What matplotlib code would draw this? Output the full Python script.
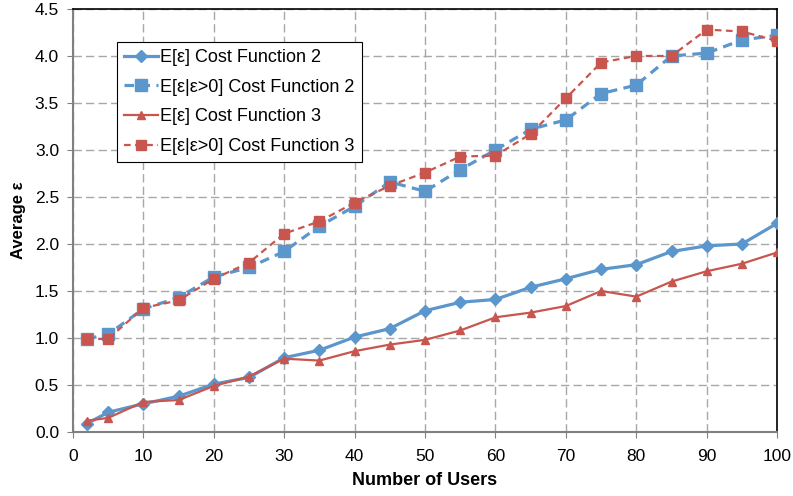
import matplotlib.pyplot as plt

plt.rcParams['font.family'] = ['Liberation Sans', 'DejaVu Sans']

users = [2, 5, 10, 15, 20, 25, 30, 35, 40, 45, 50, 55, 60, 65, 70, 75, 80, 85, 90, 95, 100]
e_cf2 = [0.09, 0.21, 0.30, 0.38, 0.51, 0.58, 0.79, 0.87, 1.01, 1.10, 1.29, 1.38, 1.41,
         1.54, 1.63, 1.73, 1.78, 1.92, 1.98, 2.00, 2.22]
epos_cf2 = [0.99, 1.04, 1.31, 1.43, 1.65, 1.75, 1.92, 2.19, 2.40, 2.66, 2.56, 2.79, 3.00,
            3.22, 3.32, 3.60, 3.69, 4.00, 4.03, 4.17, 4.22]
e_cf3 = [0.12, 0.15, 0.32, 0.34, 0.49, 0.59, 0.78, 0.76, 0.86, 0.93, 0.98, 1.08, 1.22,
         1.27, 1.34, 1.50, 1.44, 1.60, 1.71, 1.79, 1.91]
epos_cf3 = [0.99, 0.99, 1.32, 1.40, 1.63, 1.80, 2.11, 2.24, 2.44, 2.62, 2.76, 2.93, 2.94,
            3.17, 3.55, 3.93, 4.00, 4.00, 4.28, 4.26, 4.16]

blue = '#5b96cc'
red = '#c8564f'

fig = plt.figure(figsize=(7.93, 4.96), dpi=100)
ax = fig.add_axes([0.092, 0.129, 0.888, 0.853])

ax.plot(users, e_cf2, color=blue, lw=2.3, marker='D', ms=6, label='E[ε] Cost Function 2', zorder=3)
ax.plot(users, epos_cf2, color=blue, lw=2.3, ls=(0, (3, 2)), marker='s', ms=8,
        label='E[ε|ε>0] Cost Function 2', zorder=3)
ax.plot(users, e_cf3, color=red, lw=1.6, marker='^', ms=6, label='E[ε] Cost Function 3', zorder=4)
ax.plot(users, epos_cf3, color=red, lw=1.6, ls=(0, (3, 2)), marker='s', ms=7,
        label='E[ε|ε>0] Cost Function 3', zorder=4)

ax.set_xlim(0, 100)
ax.set_ylim(0, 4.5)
ax.set_xticks(range(0, 101, 10))
ax.set_yticks([i * 0.5 for i in range(10)])
ax.set_yticklabels([f'{i * 0.5:.1f}' for i in range(10)])
ax.tick_params(labelsize=12.5, direction='out', length=4, color='#808080')
ax.tick_params(axis='x', pad=8)
ax.tick_params(axis='y', pad=6)
ax.grid(True, color='#a8a8a8', ls=(0, (6, 3)), lw=1)
ax.set_axisbelow(True)

for side in ['left', 'bottom']:
    ax.spines[side].set_color('#808080')
    ax.spines[side].set_linewidth(1.5)
for side in ['top', 'right']:
    ax.spines[side].set_color('black')
    ax.spines[side].set_linewidth(1.2)

ax.set_xlabel('Number of Users', fontsize=13, fontweight='bold', labelpad=6)
ax.set_ylabel('Average ε', fontsize=12, fontweight='bold', labelpad=6)

leg = ax.legend(loc='upper left', bbox_to_anchor=(0.0625, 0.922), fontsize=13, fancybox=False,
                edgecolor='black', framealpha=1, handlelength=1.9, handletextpad=0.1,
                borderpad=0.4, labelspacing=0.7, borderaxespad=0)
leg.get_frame().set_linewidth(0.8)

fig.savefig('out.png', dpi=100)
